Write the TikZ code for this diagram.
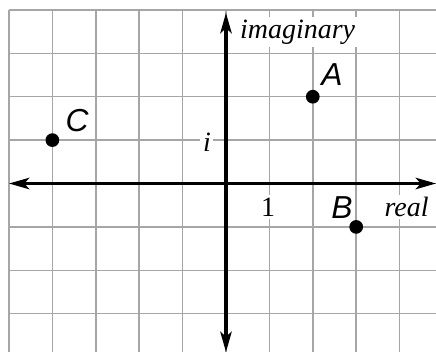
\documentclass[tikz,border=0pt]{standalone}
\usepackage{fontspec}
\setmainfont{Liberation Serif}
\newfontfamily\ptfont{Liberation Sans}
\usetikzlibrary{arrows.meta}

\tikzset{
    dot/.style={circle,fill=black,inner sep=0pt,minimum size=5.4pt},
    ptlabel/.style={font=\ptfont\itshape\fontsize{12.5}{14}\selectfont,inner sep=1pt},
    axlabel/.style={font=\fontsize{11}{13}\selectfont\itshape,fill=white,inner sep=1pt},
}

\begin{document}
\begin{tikzpicture}[x=0.6cm,y=0.6cm]

            \useasboundingbox (-5.207,-3.882) rectangle (4.839,4.228);
            % \draw [help lines] (-5,-4) grid (5,4);

            \draw[gray!70,line width=0.6pt,step={(1,1)}] (-5,-3.882) grid (4.839,4);

            \coordinate (w) at (-5,0);
            \coordinate (e) at (4.839,0);
            \coordinate (s) at (0,-3.882);
            \coordinate (n) at (0,3.93);

            \draw[arrows = {Stealth[length=8pt,width=4.5pt,inset=2pt]}-{Stealth[length=8pt,width=4.5pt,inset=2pt]},line width=1.2pt] (w) -- (e);
            \draw[arrows = {Stealth[length=8pt,width=4.5pt,inset=2pt]}-{Stealth[length=8pt,width=4.5pt,inset=2pt]},line width=1.2pt] (s) -- (n);

            \path   (1.65,3.49)  node (im) [axlabel] {imaginary}
                    (4.16,-0.54) node (re) [axlabel] {real}
                    (-0.44,0.96) node (i)  [axlabel] {i}
                    (0.97,-0.54) node (o)  [axlabel,font=\fontsize{11}{13}\selectfont] {1};

            \path   (2,2)   node (a) [dot] {}
                    (3,-1)  node (b) [dot] {}
                    (-4,1)  node (c) [dot] {}
                    (2.44,2.52)   node (la) [ptlabel] {A}
                    (2.67,-0.56)  node (lb) [ptlabel] {B}
                    (-3.43,1.44)  node (lc) [ptlabel] {C};

\end{tikzpicture}
\end{document}
